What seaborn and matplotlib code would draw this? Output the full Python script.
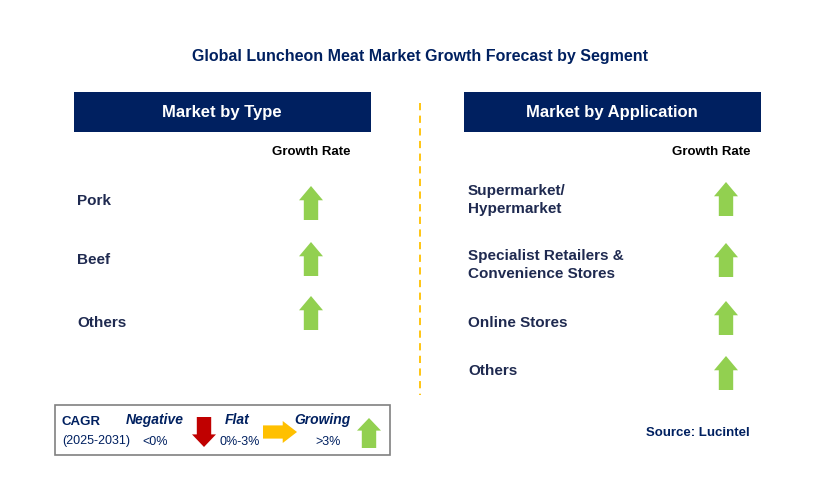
import matplotlib
matplotlib.use("Agg")
import matplotlib.pyplot as plt
import seaborn as sns
from matplotlib.patches import Rectangle, Polygon

sns.set_theme(style="white", font="Liberation Sans")

NAVY = "#002060"
TEXT = "#1f2a50"
GREEN = "#92d050"
RED = "#c00000"
AMBER = "#ffc000"

# data
type_labels = ["Pork", "Beef", "Others"]
type_trend = ["up", "up", "up"]
app_labels = ["Supermarket/\nHypermarket", "Specialist Retailers &\nConvenience Stores", "Online Stores", "Others"]
app_trend = ["up", "up", "up", "up"]
type_rows = [201, 260, 323]
app_rows = [200, 265, 323, 371]
type_arrow_rows = [203, 259, 313]
app_arrow_rows = [199, 260, 318, 373]


def arrow(ax, cx, cy, direction, color, w=24, h=34):
    hw, hh, sw = w / 2, h * 0.42, w * 0.3
    pts = [(0, -h / 2), (hw, -h / 2 + hh), (sw, -h / 2 + hh), (sw, h / 2),
           (-sw, h / 2), (-sw, -h / 2 + hh), (-hw, -h / 2 + hh)]
    if direction == "down":
        pts = [(x, -y) for x, y in pts]
    elif direction == "right":
        pts = [(-y, x) for x, y in pts]
    ax.add_patch(Polygon([(cx + x, cy + y) for x, y in pts], closed=True,
                         facecolor=color, edgecolor="none"))


fig = plt.figure(figsize=(8.29, 4.82), dpi=100)
ax = fig.add_axes([0, 0, 1, 1])
ax.set_xlim(0, 829)
ax.set_ylim(482, 0)
ax.axis("off")

ax.text(420, 57, "Global Luncheon Meat Market Growth Forecast by Segment",
        ha="center", va="center", fontsize=11.5, fontweight="bold", color=NAVY)

for x0, title in [(74, "Market by Type"), (464, "Market by Application")]:
    ax.add_patch(Rectangle((x0, 92), 297, 40, facecolor=NAVY, edgecolor="none"))
    ax.text(x0 + 148, 112, title, ha="center", va="center", fontsize=12,
            fontweight="bold", color="white")

ax.plot([420, 420], [103, 395], ls=(0, (4, 3)), color=AMBER, lw=1.3)

ax.text(311, 152, "Growth Rate", ha="center", va="center", fontsize=9.5, fontweight="bold", color="black")
ax.text(711, 152, "Growth Rate", ha="center", va="center", fontsize=9.5, fontweight="bold", color="black")

for lab, tr, y, ay in zip(type_labels, type_trend, type_rows, type_arrow_rows):
    ax.text(77, y, lab, ha="left", va="center", fontsize=11, fontweight="bold", color=TEXT)
    arrow(ax, 311, ay, tr, GREEN)

for lab, tr, y, ay in zip(app_labels, app_trend, app_rows, app_arrow_rows):
    ax.text(468, y, lab, ha="left", va="center", fontsize=11, fontweight="bold",
            color=TEXT, linespacing=1.45)
    arrow(ax, 726, ay, tr, GREEN)

# legend box
ax.add_patch(Rectangle((55, 405), 335, 50, facecolor="white", edgecolor="#808080", lw=1.2))
ax.text(62, 422, "CAGR", ha="left", va="center", fontsize=9.5, fontweight="bold", color=NAVY)
ax.text(62, 441, "(2025-2031)", ha="left", va="center", fontsize=9, color=NAVY)
ax.text(155, 420, "Negative", ha="center", va="center", fontsize=10, fontweight="bold", style="italic", color=NAVY)
ax.text(155, 442, "<0%", ha="center", va="center", fontsize=9, color=NAVY)
arrow(ax, 204, 432, "down", RED, w=24, h=30)
ax.text(237, 420, "Flat", ha="center", va="center", fontsize=10, fontweight="bold", style="italic", color=NAVY)
ax.text(240, 442, "0%-3%", ha="center", va="center", fontsize=9, color=NAVY)
arrow(ax, 280, 432, "right", AMBER, w=22, h=34)
ax.text(322, 420, "Growing", ha="center", va="center", fontsize=10, fontweight="bold", style="italic", color=NAVY)
ax.text(328, 442, ">3%", ha="center", va="center", fontsize=9, color=NAVY)
arrow(ax, 369, 433, "up", GREEN, w=24, h=30)

ax.text(750, 433, "Source: Lucintel", ha="right", va="center", fontsize=9.5, fontweight="bold", color=NAVY)

fig.savefig("out.png", dpi=100)
